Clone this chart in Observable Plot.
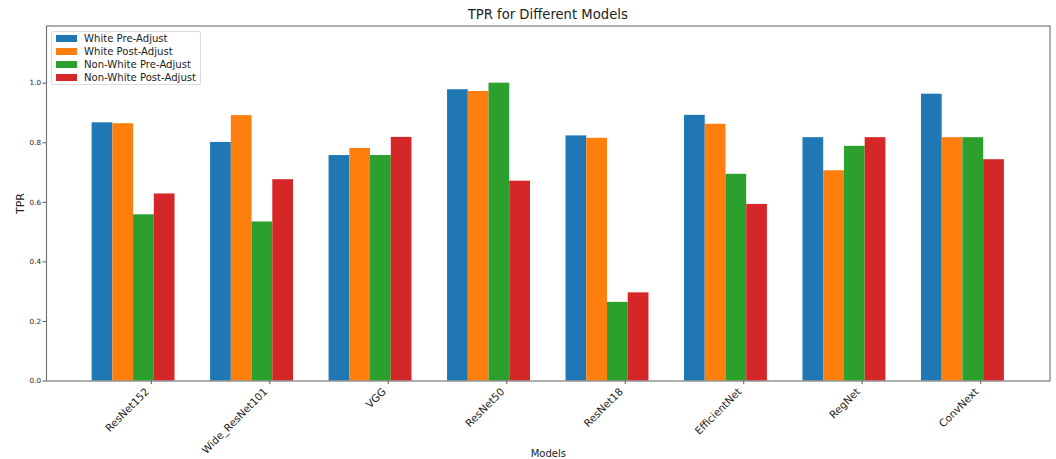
<!DOCTYPE html>
<html>
<head>
<meta charset="utf-8">
<script src="https://cdn.jsdelivr.net/npm/d3@7"></script>
<script src="https://cdn.jsdelivr.net/npm/@observablehq/plot@0.6"></script>
<style>
  html, body { margin: 0; padding: 0; background: #fff; }
  #wrap { position: relative; width: 1056px; height: 459px; font-family: "DejaVu Sans", sans-serif; color: #222; }
  #title { position: absolute; left: 46px; width: 1003.5px; top: 7px; text-align: center; font-size: 13.2px; }
  #legend { position: absolute; left: 51px; top: 30.5px; width: 150px; height: 54px; box-sizing: border-box;
            border: 1px solid #ddd; border-radius: 2px; background: rgba(255,255,255,0.85); font-size: 10.1px; }
  #legend .row { position: absolute; left: 4px; height: 13px; display: flex; align-items: center; }
  #legend .sw { width: 20.5px; height: 7px; margin-right: 7.5px; }
  #chart { position: absolute; left: 0; top: 0; }
</style>
</head>
<body>
<div id="wrap">
  <div id="chart"></div>
  <div id="title">TPR for Different Models</div>
  <div id="legend"></div>
</div>
<script>
// Models along the x axis
const models = ["ResNet152", "Wide_ResNet101", "VGG", "ResNet50", "ResNet18", "EfficientNet", "RegNet", "ConvNext"];

// TPR per model for each group, before and after adjustment
const whitePre     = [0.867, 0.801, 0.757, 0.978, 0.823, 0.892, 0.817, 0.963];
const whitePost    = [0.864, 0.891, 0.781, 0.972, 0.815, 0.862, 0.706, 0.817];
const nonWhitePre  = [0.558, 0.534, 0.757, 1.000, 0.264, 0.694, 0.788, 0.817];
const nonWhitePost = [0.628, 0.676, 0.818, 0.671, 0.296, 0.593, 0.817, 0.743];

const seriesNames = ["White Pre-Adjust", "White Post-Adjust", "Non-White Pre-Adjust", "Non-White Post-Adjust"];
const seriesValues = [whitePre, whitePost, nonWhitePre, nonWhitePost];
const colors = ["#1f77b4", "#ff7f0e", "#2ca02c", "#d62728"];

const yTicks = [0, 0.2, 0.4, 0.6, 0.8, 1.0];

// Bar layout: four bars per model, starting half a unit left of the tick
const barWidth = 0.175;
const rows = [];
seriesValues.forEach((vals, j) => {
  vals.forEach((v, i) => {
    const x1 = i - 0.5 + j * barWidth;
    rows.push({model: models[i], series: seriesNames[j], x1, x2: x1 + barWidth, value: v});
  });
});

// 5% padding on each side of the bar span
const left = -0.5, right = models.length - 1 - 0.5 + seriesNames.length * barWidth;
const pad = 0.05 * (right - left);

const chart = Plot.plot({
  width: 1056,
  height: 459,
  marginLeft: 46,
  marginRight: 6.5,
  marginTop: 25.5,
  marginBottom: 78.5,
  style: {fontFamily: "DejaVu Sans, sans-serif", color: "#222", background: "#fff"},
  x: {type: "linear", domain: [left - pad, right + pad]},
  y: {domain: [0, 1.192]},
  color: {domain: seriesNames, range: colors},
  marks: [
    Plot.rectY(rows, {x1: "x1", x2: "x2", y1: 0, y2: "value", fill: "series", inset: 0}),
    Plot.axisY({
      ticks: yTicks, tickFormat: ".1f", tickSize: 3.5, tickPadding: 2, fontSize: 7.2,
      label: "TPR", labelAnchor: "center", labelArrow: "none", labelOffset: 30, stroke: "#555"
    }),
    // tick marks only
    Plot.axisX({
      ticks: d3.range(models.length), tickSize: 3.5, stroke: "#555", tickFormat: () => "", label: null
    }),
    // rotated model names, right edge under each tick
    Plot.axisX({
      ticks: d3.range(models.length), tickFormat: (i) => models[i], tickRotate: -45,
      tickSize: 0, tickPadding: 5, fontSize: 10.4, dx: -4, dy: 4,
      label: "Models", labelAnchor: "center", labelArrow: "none", labelOffset: 76
    }),
    Plot.frame({stroke: "#6e6e6e", strokeWidth: 1.1})
  ]
});
document.getElementById("chart").appendChild(chart);

// Axis label sizes differ from tick label sizes
chart.querySelectorAll("g[aria-label='y-axis label'] text").forEach(t => t.setAttribute("font-size", "11"));
chart.querySelectorAll("g[aria-label='x-axis label'] text").forEach(t => t.setAttribute("font-size", "10"));

// Legend in the upper-left corner of the plot area
const legend = document.getElementById("legend");
seriesNames.forEach((name, j) => {
  const row = document.createElement("div");
  row.className = "row";
  row.style.top = (0.5 + j * 13) + "px";
  const sw = document.createElement("div");
  sw.className = "sw";
  sw.style.background = colors[j];
  const label = document.createElement("span");
  label.textContent = name;
  row.appendChild(sw);
  row.appendChild(label);
  legend.appendChild(row);
});
</script>
</body>
</html>
